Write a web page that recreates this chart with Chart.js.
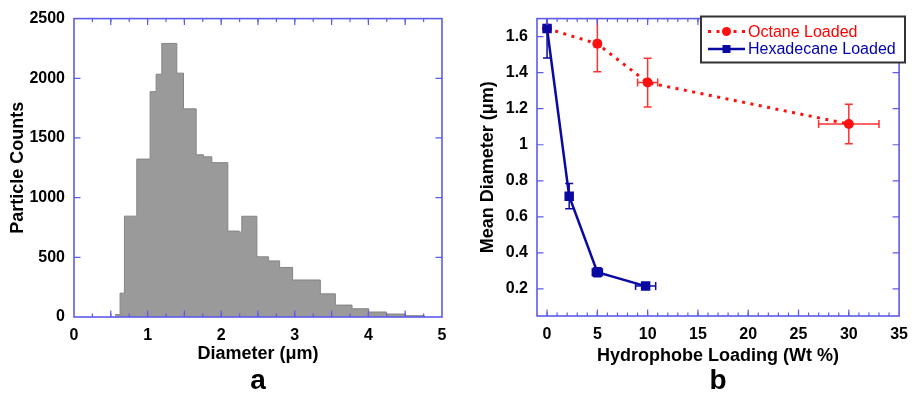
<!DOCTYPE html>
<html lang="en">
<head>
<meta charset="UTF-8">
<title>Particle size and hydrophobe loading</title>
<script src="https://cdn.jsdelivr.net/npm/chart.js"></script>
<style>
  body { margin: 0; background: #fff; }
  #wrap { position: relative; width: 917px; height: 395px; }
  canvas { position: absolute; top: 0; }
</style>
</head>
<body>
<div id="wrap">
  <canvas id="histChart" width="460" height="395" style="left:0"></canvas>
  <canvas id="loadChart" width="457" height="395" style="left:460px"></canvas>
</div>
<script>
// panel a - histogram, bin edges in um and counts per bin
const binEdges = [0.558, 0.626, 0.685, 0.853, 1.034, 1.116, 1.193, 1.397, 1.488, 1.660, 1.760,
                  1.873, 2.090, 2.245, 2.280, 2.485, 2.644, 2.794, 2.970, 3.347, 3.551, 3.778,
                  4.005, 4.245, 4.503, 4.762];
const binCounts = [20, 200, 845, 1323, 1888, 2034, 2292, 2043, 1744, 1359, 1342,
                   1293, 720, 711, 844, 504, 470, 415, 310, 194, 100, 69,
                   42, 25, 11];

// panel b - mean diameter vs hydrophobe loading
const octaneLoading = [0, 5, 10, 30];
const octaneDiameter = [1.645, 1.56, 1.345, 1.115];
const octaneXErr = [0, 0.3, 1.0, 3.0];
const octaneYErr = [0, 0.155, 0.135, 0.11];

const hexLoading = [0, 2.2, 5, 9.8];
const hexDiameter = [1.645, 0.715, 0.293, 0.216];
const hexXErr = [0, 0.2, 0.5, 1.0];
const hexYErr = [0.163, 0.07, 0.025, 0.012];

const legendLabels = ['Octane Loaded', 'Hexadecane Loaded'];

const FONT = 'Arial, "Liberation Sans", sans-serif';
Chart.defaults.font.family = FONT;
Chart.defaults.color = '#000';

const axisBlue = '#5c5ce8';
const red = '#ff1010';
const blue = '#0a0aa2';

// box round the plot with inward ticks on all four sides
const framePlugin = {
  id: 'frame',
  afterDatasetsDraw(chart, args, o) {
    const { ctx, chartArea: a, scales: { x, y } } = chart;
    ctx.save();
    ctx.strokeStyle = axisBlue;
    ctx.lineWidth = 1.2;
    const each = (scale, step, fn) => {
      for (let i = Math.ceil(scale.min / step - 1e-9); i * step <= scale.max + 1e-9; i++) {
        fn(scale.getPixelForValue(i * step));
      }
    };
    const xMark = (len) => (px) => {
      if (px < a.left + 1 || px > a.right - 1) return;
      ctx.beginPath();
      ctx.moveTo(px, a.bottom); ctx.lineTo(px, a.bottom - len);
      ctx.moveTo(px, a.top); ctx.lineTo(px, a.top + len);
      ctx.stroke();
    };
    const yMark = (len) => (py) => {
      if (py < a.top + 1 || py > a.bottom - 1) return;
      ctx.beginPath();
      ctx.moveTo(a.left, py); ctx.lineTo(a.left + len, py);
      ctx.moveTo(a.right, py); ctx.lineTo(a.right - len, py);
      ctx.stroke();
    };
    each(x, o.xMinor, xMark(3.5));
    each(x, o.xMajor, xMark(6.5));
    each(y, o.yMajor, yMark(6.5));
    ctx.lineWidth = 1.6;
    ctx.strokeRect(a.left, a.top, a.right - a.left, a.bottom - a.top);
    ctx.restore();
  }
};

// big panel letter under the axis title
const letterPlugin = {
  id: 'letter',
  afterDraw(chart, args, o) {
    const { ctx, chartArea: a } = chart;
    ctx.save();
    ctx.font = 'bold 28px ' + FONT;
    ctx.fillStyle = '#000';
    ctx.textAlign = 'center';
    ctx.textBaseline = 'alphabetic';
    ctx.fillText(o.text, (a.left + a.right) / 2, 389);
    ctx.restore();
  }
};

// x and y error bars with caps
const errorBarPlugin = {
  id: 'errorBars',
  beforeDatasetsDraw(chart) {
    const { ctx, chartArea: a, scales: { x, y } } = chart;
    ctx.save();
    ctx.beginPath();
    ctx.rect(a.left, a.top, a.right - a.left, a.bottom - a.top);
    ctx.clip();
    chart.data.datasets.forEach((ds) => {
      ctx.strokeStyle = ds.errColor;
      ctx.lineWidth = 1.5;
      ds.data.forEach((p, i) => {
        const px = x.getPixelForValue(p.x);
        const py = y.getPixelForValue(p.y);
        const ex = ds.xErr[i], ey = ds.yErr[i];
        const cap = 4;
        ctx.beginPath();
        if (ey > 0) {
          const y1 = y.getPixelForValue(p.y - ey), y2 = y.getPixelForValue(p.y + ey);
          ctx.moveTo(px, y1); ctx.lineTo(px, y2);
          ctx.moveTo(px - cap, y1); ctx.lineTo(px + cap, y1);
          ctx.moveTo(px - cap, y2); ctx.lineTo(px + cap, y2);
        }
        if (ex > 0) {
          const x1 = x.getPixelForValue(p.x - ex), x2 = x.getPixelForValue(p.x + ex);
          ctx.moveTo(x1, py); ctx.lineTo(x2, py);
          ctx.moveTo(x1, py - cap); ctx.lineTo(x1, py + cap);
          ctx.moveTo(x2, py - cap); ctx.lineTo(x2, py + cap);
        }
        ctx.stroke();
      });
    });
    ctx.restore();
  }
};

// boxed legend in the top right corner of panel b
const boxLegendPlugin = {
  id: 'boxLegend',
  afterDraw(chart) {
    const { ctx } = chart;
    const left = 241, top = 16.5, w = 204, h = 46;
    ctx.save();
    ctx.fillStyle = '#fff';
    ctx.fillRect(left, top, w, h);
    ctx.strokeStyle = '#333';
    ctx.lineWidth = 2;
    ctx.strokeRect(left, top, w, h);
    const rows = [31.5, 49];
    const dsets = [chart.data.datasets[1], chart.data.datasets[0]];
    dsets.forEach((ds, i) => {
      const yy = rows[i];
      ctx.strokeStyle = ds.borderColor;
      ctx.lineWidth = ds.borderWidth;
      ctx.setLineDash(ds.borderDash || []);
      ctx.beginPath();
      ctx.moveTo(248, yy); ctx.lineTo(285, yy);
      ctx.stroke();
      ctx.setLineDash([]);
      ctx.fillStyle = ds.borderColor;
      ctx.beginPath();
      if (ds.pointStyle === 'rect') {
        ctx.rect(266.5 - 4, yy - 4, 8, 8);
      } else {
        ctx.arc(266.5, yy, 4.5, 0, Math.PI * 2);
      }
      ctx.fill();
      ctx.font = '16px ' + FONT;
      ctx.textBaseline = 'middle';
      ctx.textAlign = 'left';
      ctx.fillStyle = ds.labelColor;
      ctx.fillText(legendLabels[i], 288, yy + 1);
    });
    ctx.restore();
  }
};

const tickFont = { size: 16, weight: 'bold' };
const titleFont = { size: 18, weight: 'bold' };
const plainNum = (v) => String(+v.toFixed(2));

// panel a
new Chart(document.getElementById('histChart'), {
  type: 'line',
  data: {
    datasets: [{
      data: binEdges.map((e, i) => ({ x: e, y: i < binCounts.length ? binCounts[i] : 0 })),
      stepped: true,
      fill: 'origin',
      backgroundColor: '#9a9a9a',
      borderColor: '#858585',
      borderWidth: 1,
      pointRadius: 0
    }]
  },
  options: {
    responsive: false,
    animation: false,
    layout: { padding: { left: 0, top: 16, right: 18, bottom: 0 } },
    plugins: {
      legend: { display: false },
      tooltip: { enabled: false },
      frame: { xMajor: 0.5, xMinor: 0.25, yMajor: 500 },
      letter: { text: 'a' }
    },
    scales: {
      x: {
        type: 'linear', min: 0, max: 5,
        afterFit: (s) => { s.height = 78; },
        grid: { display: false, drawTicks: false },
        border: { display: false },
        ticks: { stepSize: 1, padding: 9, font: tickFont, callback: plainNum },
        title: { display: true, text: 'Diameter (μm)', font: titleFont, padding: { top: 0, bottom: 30 } }
      },
      y: {
        min: 0, max: 2500,
        afterFit: (s) => { s.width = 74; },
        grid: { display: false, drawTicks: false },
        border: { display: false },
        ticks: { stepSize: 500, padding: 9, font: tickFont, callback: plainNum },
        title: { display: true, text: 'Particle Counts', font: titleFont, padding: { top: 7, bottom: 0 } }
      }
    }
  },
  plugins: [framePlugin, letterPlugin]
});

// panel b
new Chart(document.getElementById('loadChart'), {
  type: 'line',
  data: {
    datasets: [{
      label: legendLabels[1],
      data: hexLoading.map((v, i) => ({ x: v, y: hexDiameter[i] })),
      xErr: hexXErr, yErr: hexYErr,
      borderColor: blue, backgroundColor: blue, labelColor: '#0000b0', errColor: blue,
      borderWidth: 2.5,
      pointStyle: 'rect', pointRadius: 6.7, pointBorderWidth: 0,
      order: 0
    }, {
      label: legendLabels[0],
      data: octaneLoading.map((v, i) => ({ x: v, y: octaneDiameter[i] })),
      xErr: octaneXErr, yErr: octaneYErr,
      borderColor: red, backgroundColor: red, labelColor: '#ff0000', errColor: '#ff3030',
      borderWidth: 3, borderDash: [3, 5.5],
      pointStyle: 'circle', pointRadius: 5, pointBorderWidth: 0,
      order: 1
    }]
  },
  options: {
    responsive: false,
    animation: false,
    layout: { padding: { left: 0, top: 16, right: 12, bottom: 0 } },
    plugins: {
      legend: { display: false },
      tooltip: { enabled: false },
      frame: { xMajor: 5, xMinor: 1, yMajor: 0.2 },
      letter: { text: 'b' }
    },
    scales: {
      x: {
        type: 'linear', min: -1, max: 35,
        afterFit: (s) => { s.height = 79; },
        grid: { display: false, drawTicks: false },
        border: { display: false },
        ticks: { stepSize: 5, includeBounds: false, autoSkip: false, padding: 9, font: tickFont, callback: plainNum },
        title: { display: true, text: 'Hydrophobe Loading (Wt %)', font: titleFont, padding: { top: 0, bottom: 28 } }
      },
      y: {
        min: 0.05, max: 1.7,
        afterFit: (s) => { s.width = 77; },
        grid: { display: false, drawTicks: false },
        border: { display: false },
        ticks: { stepSize: 0.2, includeBounds: false, padding: 9, font: tickFont, callback: plainNum },
        title: { display: true, text: 'Mean Diameter (μm)', font: titleFont, padding: { top: 17, bottom: 0 } }
      }
    }
  },
  plugins: [errorBarPlugin, framePlugin, boxLegendPlugin, letterPlugin]
});
</script>
</body>
</html>
